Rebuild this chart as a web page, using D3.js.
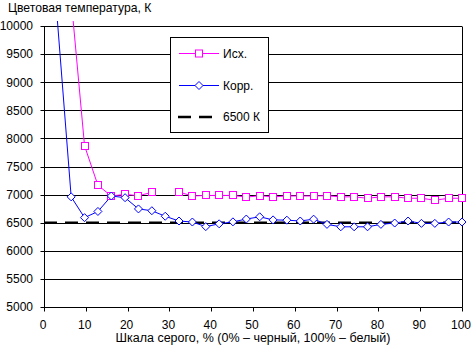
<!DOCTYPE html>
<html><head><meta charset="utf-8">
<script src="https://cdn.jsdelivr.net/npm/d3@7"></script>
<style>
html,body{margin:0;padding:0;background:#fff;}
svg{display:block;font-family:"Liberation Sans",Arial,sans-serif;}
</style></head>
<body>
<svg id="chart" width="472" height="349"></svg>
<script>
// ---- data ----
const grayPercent = [0, 3.2, 6.5, 9.7, 12.9, 16.1, 19.4, 22.6, 25.8, 29.0, 32.3, 35.5, 38.7, 41.9, 45.2, 48.4,
  51.6, 54.8, 58.1, 61.3, 64.5, 67.7, 71.0, 74.2, 77.4, 80.6, 83.9, 87.1, 90.3, 93.5, 96.8, 100];
const seriesOriginal = [null, null, 10480, 7870, 7165, 6975, 7005, 6980, 7040, null, 7045, 6975, 6985, 6985, 6985, 6955,
  6980, 6960, 6975, 6975, 6975, 6980, 6960, 6960, 6935, 6960, 6960, 6935, 6935, 6900, 6935, 6935];
const seriesCorrected = [null, 10100, 6960, 6590, 6700, 6975, 6945, 6745, 6713, 6615, 6530, 6512, 6430, 6480, 6515, 6565,
  6605, 6550, 6545, 6530, 6563, 6470, 6427, 6427, 6427, 6470, 6494, 6530, 6488, 6488, 6512, 6512];
const referenceX = [0, 100];
const referenceValues = [6500, 6500];
const xTicks = [0, 10, 20, 30, 40, 50, 60, 70, 80, 90, 100];
const yTicks = [5000, 5500, 6000, 6500, 7000, 7500, 8000, 8500, 9000, 9500, 10000];
const seriesNames = ["Исх.", "Корр.", "6500 К"];
const yTitle = "Цветовая температура, К";
const xTitle = "Шкала серого, % (0% – черный, 100% – белый)";

// ---- layout ----
const svg = d3.select("#chart");
const L = 44, R = 462, T = 26, B = 307;
const x = d3.scaleLinear().domain([0, 100]).range([L, R]);
const y = d3.scaleLinear().domain([5000, 10000]).range([B, T]);
const px = v => Math.round(v) + 0.5;
const fontSize = 12;

// gridlines
svg.append("g").selectAll("line").data(yTicks).join("line")
  .attr("x1", L).attr("x2", R)
  .attr("y1", d => px(y(d))).attr("y2", d => px(y(d)))
  .attr("stroke", "#000").attr("stroke-width", 1);

// right border
svg.append("line").attr("x1", px(R)).attr("x2", px(R)).attr("y1", px(T)).attr("y2", px(B))
  .attr("stroke", "#000");

// y axis
const yAxis = svg.append("g");
yAxis.append("line").attr("x1", px(L)).attr("x2", px(L)).attr("y1", px(T)).attr("y2", px(B)).attr("stroke", "#000");
yAxis.selectAll("line.t").data(yTicks).join("line").attr("class", "t")
  .attr("x1", px(L) - 4).attr("x2", px(L)).attr("y1", d => px(y(d))).attr("y2", d => px(y(d))).attr("stroke", "#000");
yAxis.selectAll("text").data(yTicks).join("text")
  .attr("x", L - 11).attr("y", d => y(d)).attr("dy", "0.36em")
  .attr("text-anchor", "end").attr("font-size", fontSize).text(d => d);

// x axis
const xAxis = svg.append("g");
xAxis.append("line").attr("x1", px(L)).attr("x2", px(R)).attr("y1", px(B)).attr("y2", px(B)).attr("stroke", "#000");
xAxis.selectAll("line.t").data(xTicks).join("line").attr("class", "t")
  .attr("x1", d => px(x(d))).attr("x2", d => px(x(d))).attr("y1", px(B)).attr("y2", px(B) + 4).attr("stroke", "#000");
xAxis.selectAll("text").data(xTicks).join("text")
  .attr("x", d => x(d) - 1).attr("y", 329)
  .attr("text-anchor", "middle").attr("font-size", fontSize).text(d => d);

// titles
svg.append("text").attr("x", 8).attr("y", 12).attr("font-size", 12.2).text(yTitle);
svg.append("text").attr("x", (L + R) / 2).attr("y", 342).attr("text-anchor", "middle").attr("font-size", 12.5).text(xTitle);

// clip for lines
svg.append("clipPath").attr("id", "clip").append("rect")
  .attr("x", L).attr("y", T - 5).attr("width", R - L).attr("height", B - T + 5);

const plot = svg.append("g").attr("clip-path", "url(#clip)");

// reference 6500
plot.append("path")
  .attr("d", d3.line().x((d, i) => x(referenceX[i])).y(d => y(d))(referenceValues))
  .attr("fill", "none").attr("stroke", "#000").attr("stroke-width", 2.5).attr("stroke-dasharray", "13,8");

const lineGen = d3.line().defined(d => d[1] != null).x(d => x(d[0])).y(d => y(d[1]));
const ptsOrig = grayPercent.map((g, i) => [g, seriesOriginal[i]]);
const ptsCorr = grayPercent.map((g, i) => [g, seriesCorrected[i]]);

plot.append("path").attr("d", lineGen(ptsOrig)).attr("fill", "none").attr("stroke", "#ff00ff").attr("stroke-width", 1);
plot.append("path").attr("d", lineGen(ptsCorr)).attr("fill", "none").attr("stroke", "#0000ff").attr("stroke-width", 1);

const inRange = d => d[1] != null && d[1] >= 5000 && d[1] <= 10000;
// markers original (squares)
svg.append("g").selectAll("rect").data(ptsOrig.filter(inRange)).join("rect")
  .attr("x", d => Math.round(x(d[0])) - 3.5).attr("y", d => Math.round(y(d[1])) - 3.5)
  .attr("width", 7).attr("height", 7)
  .attr("fill", "#fff").attr("stroke", "#ff00ff").attr("stroke-width", 1);
// markers corrected (diamonds)
const diamond = (cx, cy, r) => `M${cx},${cy - r}L${cx + r},${cy}L${cx},${cy + r}L${cx - r},${cy}Z`;
svg.append("g").selectAll("path").data(ptsCorr.filter(inRange)).join("path")
  .attr("d", d => diamond(x(d[0]), y(d[1]), 4))
  .attr("fill", "#fff").attr("stroke", "#0000ff").attr("stroke-width", 1);

// legend
const lg = svg.append("g");
lg.append("rect").attr("x", 170.5).attr("y", 37.5).attr("width", 98).attr("height", 95)
  .attr("fill", "#fff").attr("stroke", "#000").attr("stroke-width", 1);
const legendY = [53.5, 85.5, 117];
// orig
lg.append("line").attr("x1", 179).attr("x2", 219).attr("y1", legendY[0]).attr("y2", legendY[0]).attr("stroke", "#ff00ff");
lg.append("rect").attr("x", 195.5).attr("y", legendY[0] - 3.5).attr("width", 7).attr("height", 7)
  .attr("fill", "#fff").attr("stroke", "#ff00ff");
// corr
lg.append("line").attr("x1", 179).attr("x2", 219).attr("y1", legendY[1]).attr("y2", legendY[1]).attr("stroke", "#0000ff");
lg.append("path").attr("d", diamond(199, legendY[1], 4)).attr("fill", "#fff").attr("stroke", "#0000ff");
// ref
lg.append("line").attr("x1", 178).attr("x2", 220).attr("y1", legendY[2]).attr("y2", legendY[2])
  .attr("stroke", "#000").attr("stroke-width", 2.5).attr("stroke-dasharray", "13,8");
lg.selectAll("text").data(seriesNames).join("text")
  .attr("x", 223).attr("y", (d, i) => legendY[i]).attr("dy", "0.36em")
  .attr("font-size", fontSize).text(d => d);
</script>
</body></html>
